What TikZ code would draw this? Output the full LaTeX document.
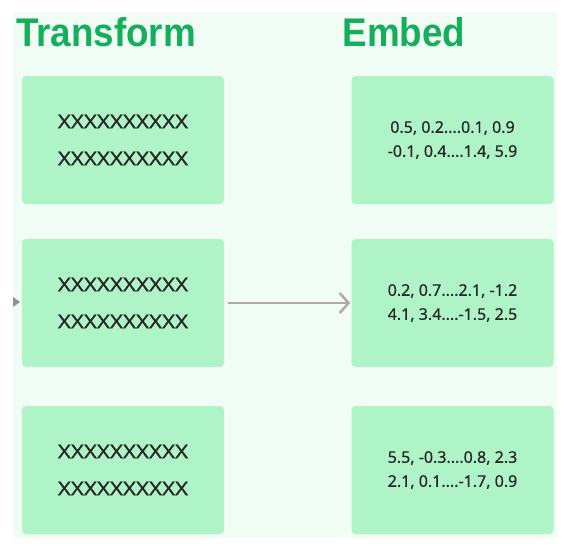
\documentclass[tikz,border=0pt]{standalone}
\usepackage{fontspec}
\setmainfont[FakeBold=0.4]{Noto Sans}
\newfontfamily\titlefont[FakeStretch=0.92]{Liberation Sans}
\newfontfamily\xfont[FakeStretch=1.17,FakeBold=0.4]{Noto Sans}
\usetikzlibrary{arrows.meta}
\definecolor{panel}{HTML}{F1FCF5}
\definecolor{boxgreen}{HTML}{AFF4C6}
\definecolor{titlegreen}{HTML}{14AE5C}
\definecolor{ink}{HTML}{262626}
\definecolor{arrowgrey}{HTML}{ABABAB}

\begin{document}
\begin{tikzpicture}[x=1pt,y=-1pt,
    card/.style={fill=boxgreen, rounded corners=4pt, minimum width=202pt, minimum height=128pt, align=center, text=ink},
    tokens/.style={card, font=\xfont\fontsize{19}{37}\selectfont},
    vectors/.style={card, font=\fontsize{16}{24}\selectfont},
    heading/.style={anchor=base, text=titlegreen, font=\titlefont\bfseries\fontsize{40}{40}\selectfont}]
    \useasboundingbox (0,0) rectangle (583,547);
    \fill [panel] (13,12) rectangle (557,538);
    \node [heading] (transform) at (106,46) {Transform};
    \node [heading] (embed) at (404,46) {Embed};
    \node [tokens] (t1) at (123,140) {XXXXXXXXXX\\XXXXXXXXXX};
    \node [tokens] (t2) at (123,303) {XXXXXXXXXX\\XXXXXXXXXX};
    \node [tokens] (t3) at (123,470) {XXXXXXXXXX\\XXXXXXXXXX};
    \node [vectors] (e1) at (452.5,140) {0.5, 0.2....0.1, 0.9\\-0.1, 0.4....1.4, 5.9};
    \node [vectors] (e2) at (452.5,303) {0.2, 0.7....2.1, -1.2\\4.1, 3.4....-1.5, 2.5};
    \node [vectors] (e3) at (452.5,470) {5.5, -0.3....0.8, 2.3\\2.1, 0.1....-1.7, 0.9};
    \draw [arrowgrey, line width=2.5pt, -{Straight Barb[length=9pt,width=20pt,line width=2.5pt]}] ([xshift=4pt]t2.east) -- ([xshift=-1pt]e2.west);
    \fill [arrowgrey!85!black] (13,297) -- (20,302) -- (13,307) -- cycle;
\end{tikzpicture}
\end{document}
